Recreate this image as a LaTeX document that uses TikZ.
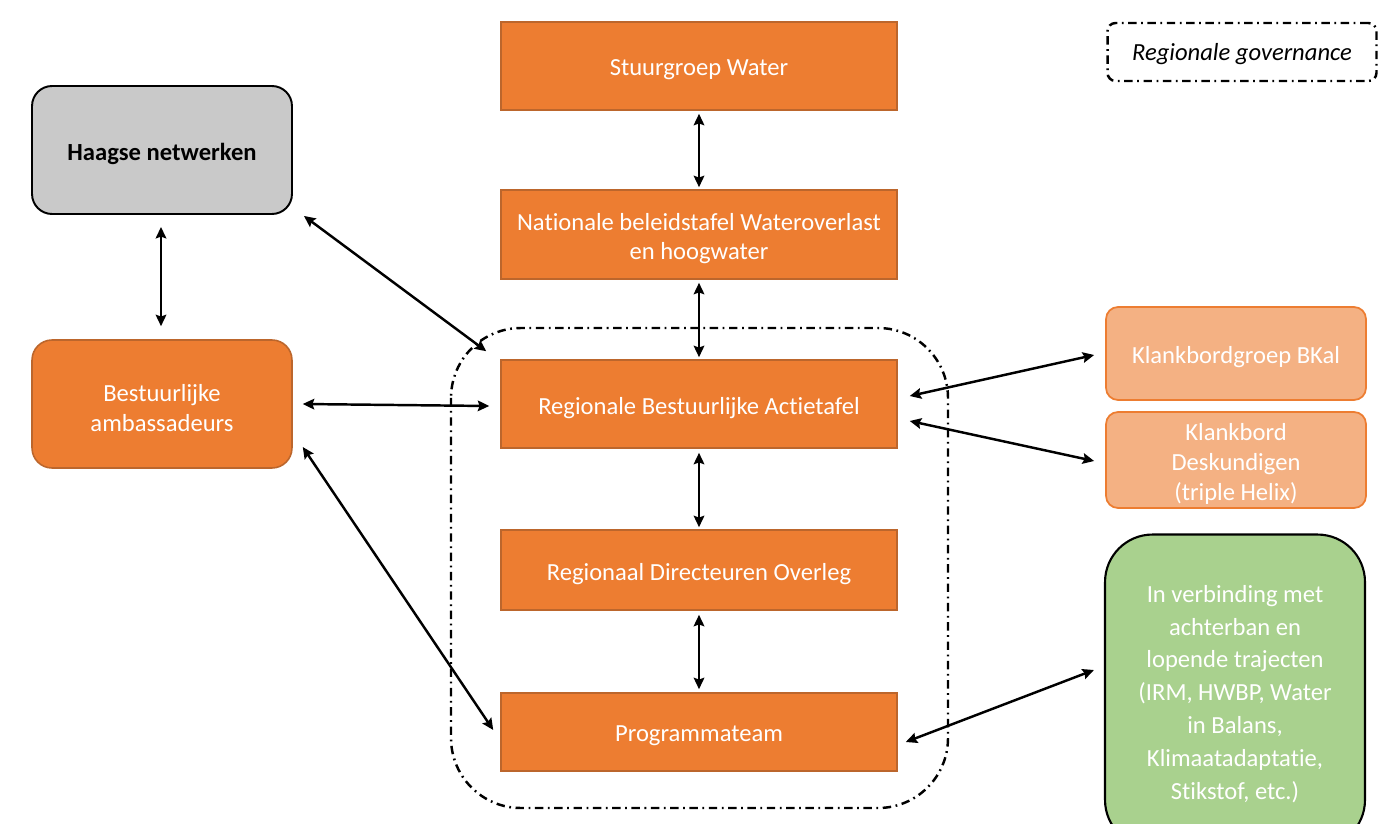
\documentclass[tikz,border=0pt]{standalone}
\usepackage{fontspec}
\setmainfont{Carlito}[Ligatures=NoCommon]
\usetikzlibrary{arrows.meta,calc}
\definecolor{org}{HTML}{ED7D31}
\definecolor{orgd}{HTML}{BC662C}
\definecolor{lorg}{HTML}{F4B183}
\definecolor{grn}{HTML}{A9D18E}
\definecolor{gry}{HTML}{C9C9C9}
\begin{document}
\begin{tikzpicture}[x=0.02cm,y=-0.02cm,
  txt/.style={font=\fontsize{14}{17}\selectfont, align=center, inner sep=0pt, yshift=-2.3pt},
  wtxt/.style={txt, text=white},
  obox/.style={draw=orgd, line width=0.9pt, fill=org, minimum width=7.92cm, inner sep=0pt},
  rbox/.style={draw=black, line width=1.1pt, rounded corners=0.4cm, minimum width=5.2cm, minimum height=2.56cm, inner sep=0pt},
  lbox/.style={draw=org, line width=1pt, fill=lorg, rounded corners=0.24cm, minimum width=5.2cm, inner sep=0pt},
  arr/.style={{Stealth[length=6.5pt,width=6pt,inset=1pt]}-{Stealth[length=6.5pt,width=6pt,inset=1pt]}, line width=1.4pt},
  dashdot/.style={line width=1.4pt, dash pattern=on 4.8pt off 2.6pt on 1pt off 2.6pt}
]
\useasboundingbox (0,0) rectangle (1378,824);
\fill[white] (0,0) rectangle (1378,824);

% governance frame
\draw[dashdot, rounded corners=1.4cm] (451,328) rectangle (948,808);
\node[draw, dashdot, rounded corners=0.16cm, minimum width=5.38cm, minimum height=1.16cm, inner sep=0pt,
  label={[txt, yshift=1.1pt, font=\fontsize{14}{17}\selectfont\itshape]center:Regionale governance}] (leg) at (1242,52) {};

% central column
\node[obox, minimum height=1.76cm, label={[wtxt]center:Stuurgroep Water}] (sw) at (699,66) {};
\node[obox, minimum height=1.78cm, label={[wtxt]center:{Nationale beleidstafel Wateroverlast\\en hoogwater}}] (nb) at (699,234.5) {};
\node[obox, minimum height=1.76cm, label={[wtxt]center:Regionale Bestuurlijke Actietafel}] (rba) at (699,404) {};
\node[obox, minimum height=1.6cm, label={[wtxt]center:Regionaal Directeuren Overleg}] (rdo) at (699,570) {};
\node[obox, minimum height=1.56cm, label={[wtxt]center:Programmateam}] (pt) at (699,732) {};

% left
\node[rbox, fill=gry, label={[txt, font=\fontsize{14}{17}\selectfont\bfseries]center:Haagse netwerken}] (hn) at (162,150) {};
\node[rbox, draw=orgd, line width=0.9pt, fill=org, label={[wtxt]center:{Bestuurlijke\\ambassadeurs}}] (ba) at (162,404) {};

% right
\node[lbox, minimum height=1.86cm, label={[wtxt]center:Klankbordgroep BKal}] (kb) at (1236,353.5) {};
\node[lbox, minimum height=1.92cm, label={[wtxt]center:{Klankbord\\Deskundigen\\(triple Helix)}}] (kd) at (1236,460) {};
\node[draw=black, line width=1.2pt, fill=grn, rounded corners=0.95cm, minimum width=5.2cm, minimum height=6.26cm, inner sep=0pt,
  label={[wtxt, yshift=0.6pt, font=\fontsize{14}{18.7}\selectfont]center:{In verbinding met\\achterban en\\lopende trajecten\\(IRM, HWBP, Water\\in Balans,\\Klimaatadaptatie,\\Stikstof, etc.)}}] (gr) at (1235,691) {};

% connectors
\draw[arr] ($(sw.south)+(0,3)$) -- ($(nb.north)+(0,-2)$);
\draw[arr] ($(nb.south)+(0,3)$) -- ($(rba.north)+(0,-2)$);
\draw[arr] ($(rba.south)+(0,4)$) -- ($(rdo.north)+(0,-2)$);
\draw[arr] ($(rdo.south)+(0,4)$) -- ($(pt.north)+(0,-3)$);
\draw[arr] ($(hn.south)+(-1,12)$) -- ($(ba.north)+(-1,-13)$);
\draw[arr] ($(hn.south east)+(11,1)$) -- ($(rba.north west)+(-14,-8)$);
\draw[arr] ($(ba.east)+(10,0)$) -- ($(rba.west)+(-11,2)$);
\draw[arr] ($(ba.east)+(10,43)$) -- ($(pt.west)+(-7,-2)$);
\draw[arr] ($(rba.east)+(12,-8)$) -- ($(kb.west)+(-11,1.5)$);
\draw[arr] ($(rba.east)+(12,17)$) -- ($(kd.west)+(-11,1)$);
\draw[arr] ($(pt.east)+(8,10)$) -- ($(gr.west)+(-10,-21)$);
\end{tikzpicture}
\end{document}
